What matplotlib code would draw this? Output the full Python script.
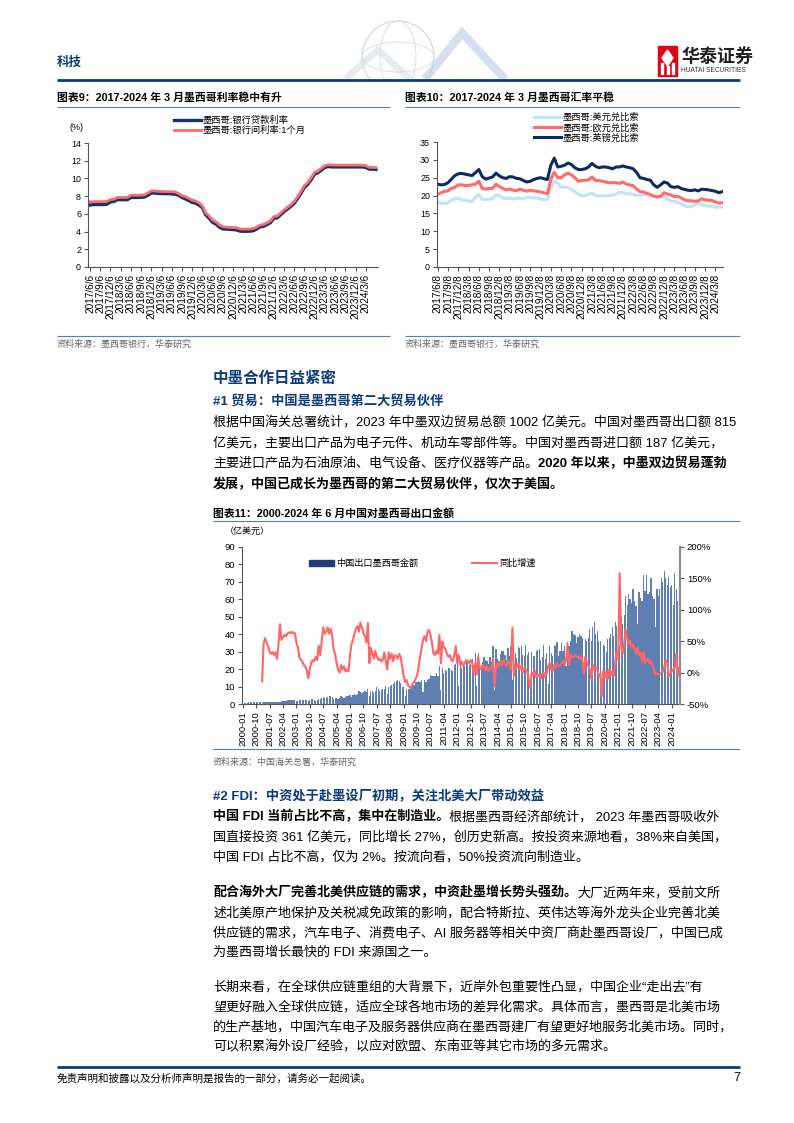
import numpy as np
import matplotlib
matplotlib.use('Agg')
import matplotlib.pyplot as plt
from matplotlib.patches import Rectangle, Circle, Ellipse, Polygon, Patch

plt.rcParams['font.family'] = ['Liberation Sans', 'Noto Sans CJK SC']
plt.rcParams['axes.unicode_minus'] = False

# ---------------- data ----------------
# chart 9: monthly, 2017-06 .. 2024-06 (%)
rate_loan = [7.0, 7.05, 7.05, 7.05, 7.05, 7.1, 7.35,
             7.4, 7.6, 7.6, 7.6, 7.6, 7.85, 7.85, 7.85, 7.87, 7.9, 8.1, 8.35,
             8.35, 8.3, 8.3, 8.28, 8.28, 8.26, 8.22, 8.1, 7.85, 7.7, 7.5, 7.3,
             7.2, 7.0, 6.7, 5.9, 5.5, 5.05, 4.85, 4.5, 4.3, 4.28, 4.25, 4.22,
             4.2, 4.05, 4.03, 4.03, 4.05, 4.1, 4.3, 4.55, 4.6, 4.8, 5.0, 5.5,
             5.55, 5.9, 6.25, 6.55, 6.85, 7.2, 7.75, 8.35, 9.0, 9.35, 9.9, 10.5,
             10.65, 10.95, 11.25, 11.35, 11.3, 11.3, 11.3, 11.3, 11.3, 11.3, 11.3, 11.3,
             11.3, 11.3, 11.25, 11.05, 11.05, 11.02]
rate_interbank = [7.35, 7.37, 7.38, 7.38, 7.38, 7.4, 7.62,
                  7.65, 7.85, 7.85, 7.85, 7.86, 8.1, 8.11, 8.1, 8.12, 8.15, 8.35, 8.6,
                  8.59, 8.55, 8.52, 8.51, 8.51, 8.5, 8.47, 8.3, 8.05, 7.95, 7.75, 7.55,
                  7.45, 7.25, 6.9, 6.1, 5.75, 5.3, 5.1, 4.75, 4.55, 4.5, 4.47, 4.45,
                  4.45, 4.3, 4.28, 4.28, 4.29, 4.35, 4.52, 4.75, 4.8, 5.0, 5.2, 5.7,
                  5.75, 6.1, 6.45, 6.75, 7.05, 7.4, 7.95, 8.55, 9.2, 9.55, 10.1, 10.7,
                  10.85, 11.15, 11.45, 11.55, 11.52, 11.5, 11.5, 11.5, 11.5, 11.5, 11.5, 11.5,
                  11.5, 11.5, 11.45, 11.25, 11.25, 11.22]
ticks9 = ['2017/6/6', '2017/9/6', '2017/12/6', '2018/3/6', '2018/6/6', '2018/9/6',
          '2018/12/6', '2019/3/6', '2019/6/6', '2019/9/6', '2019/12/6', '2020/3/6',
          '2020/6/6', '2020/9/6', '2020/12/6', '2021/3/6', '2021/6/6', '2021/9/6',
          '2021/12/6', '2022/3/6', '2022/6/6', '2022/9/6', '2022/12/6', '2023/3/6',
          '2023/6/6', '2023/9/6', '2023/12/6', '2024/3/6']

# chart 10: monthly, 2017-06 .. 2024-05
fx_usd = [18.2, 17.8, 17.8, 17.9, 18.8, 19.0, 19.2,
          18.8, 18.6, 18.5, 18.3, 19.5, 20.3, 18.9, 18.9, 19.0, 19.2, 20.2, 20.0,
          19.3, 19.2, 19.3, 19.0, 19.2, 19.3, 19.0, 19.6, 19.5, 19.3, 19.4, 19.0,
          18.8, 18.9, 22.0, 24.2, 23.5, 22.3, 22.4, 22.2, 21.7, 21.2, 20.4, 19.9,
          20.0, 20.4, 20.7, 20.0, 19.9, 20.0, 19.9, 20.0, 20.1, 20.4, 21.0, 20.8,
          20.5, 20.5, 20.3, 20.1, 20.2, 20.1, 20.4, 20.1, 20.0, 20.0, 19.5, 19.5,
          19.0, 18.5, 18.4, 18.1, 17.7, 17.2, 16.8, 17.0, 17.4, 18.0, 17.4, 17.2,
          17.1, 17.1, 16.7, 16.8, 16.7]
fx_eur = [20.3, 20.8, 21.2, 21.3, 22.0, 22.3, 23.0,
          23.0, 22.8, 22.8, 23.0, 23.2, 24.0, 22.0, 21.8, 22.0, 22.0, 23.2, 22.5,
          22.0, 21.6, 21.8, 21.5, 21.4, 21.8, 21.5, 21.2, 21.5, 21.3, 21.2, 21.0,
          20.8, 20.5, 24.5, 26.5, 25.0, 25.0, 25.8, 26.3, 25.8, 25.0, 24.0, 24.2,
          24.3, 24.4, 25.2, 24.2, 24.2, 24.0, 23.8, 23.6, 23.6, 23.6, 23.4, 23.8,
          23.2, 23.0, 22.8, 21.8, 21.1, 21.0, 20.6, 20.3, 19.8, 19.6, 19.8, 20.8,
          20.4, 20.2, 19.7, 19.8, 19.3, 18.8, 18.6, 18.5, 18.4, 18.5, 19.1, 18.8,
          18.7, 18.6, 18.2, 17.9, 18.0]
fx_gbp = [23.2, 23.0, 23.1, 23.6, 24.6, 25.6, 26.1,
          26.2, 26.0, 25.8, 25.6, 26.4, 27.3, 25.3, 24.6, 24.9, 25.2, 26.3, 25.5,
          25.0, 24.8, 25.3, 25.2, 24.8, 24.7, 24.2, 23.8, 24.0, 24.5, 24.8, 25.0,
          24.7, 24.5, 28.5, 30.5, 28.0, 28.2, 28.5, 29.1, 28.7, 27.8, 27.3, 27.3,
          27.5, 28.0, 29.0, 28.2, 27.8, 28.0, 28.0, 27.8, 27.5, 28.0, 28.0, 28.3,
          28.0, 27.8, 27.5, 26.5, 25.0, 24.8, 24.5, 24.3, 23.0, 22.3, 23.0, 23.8,
          23.5, 22.5, 22.3, 22.5, 22.0, 21.7, 21.5, 21.4, 21.6, 21.3, 21.8, 21.7,
          21.6, 21.4, 21.2, 20.8, 21.1]
ticks10 = ['2017/6/8', '2017/9/8', '2017/12/8', '2018/3/8', '2018/6/8', '2018/9/8',
           '2018/12/8', '2019/3/8', '2019/6/8', '2019/9/8', '2019/12/8', '2020/3/8',
           '2020/6/8', '2020/9/8', '2020/12/8', '2021/3/8', '2021/6/8', '2021/9/8',
           '2021/12/8', '2022/3/8', '2022/6/8', '2022/9/8', '2022/12/8', '2023/3/8',
           '2023/6/8', '2023/9/8', '2023/12/8', '2024/3/8']

# chart 11: monthly exports 2000-01 .. 2024-06 (亿美元)
export_amt = [
    0.7, 0.6, 0.8, 0.8, 0.9, 0.9, 1.0, 1.0, 1.0, 1.0, 1.0, 1.0,
    1.0, 0.6, 1.1, 1.2, 1.2, 1.2, 1.3, 1.3, 1.3, 1.3, 1.4, 1.3,
    1.4, 1.1, 1.7, 1.8, 1.9, 1.9, 2.1, 2.2, 2.1, 2.2, 2.3, 2.1,
    2.0, 1.5, 2.1, 2.2, 2.3, 2.2, 2.4, 2.3, 2.0, 2.3, 2.7, 2.6,
    2.4, 1.9, 2.5, 3.1, 2.9, 3.3, 4.1, 3.7, 3.3, 4.0, 4.4, 4.4,
    3.8, 2.6, 3.3, 3.6, 3.1, 3.3, 4.6, 3.9, 3.6, 4.1, 4.6, 4.5,
    4.9, 3.8, 5.0, 5.8, 5.3, 5.7, 7.6, 7.0, 6.2, 6.6, 7.3, 6.7,
    8.8, 4.4, 7.0, 7.5, 6.5, 7.7, 9.5, 8.4, 7.6, 7.8, 8.8, 8.8,
    10.5, 5.5, 10.0, 10.5, 11.0, 11.5, 12.5, 13.0, 13.8, 13.2, 12.0, 10.0,
    10.0, 4.7, 8.8, 8.4, 8.5, 8.6, 10.3, 11.0, 12.4, 12.5, 13.0, 12.5,
    13.8, 7.1, 13.9, 12.6, 14.0, 14.4, 16.5, 16.3, 16.1, 16.0, 17.6, 16.3,
    22.0, 8.2, 20.7, 17.6, 19.3, 18.7, 20.6, 20.9, 19.3, 18.9, 22.5, 23.1,
    25.3, 10.5, 23.2, 20.8, 21.2, 21.5, 24.7, 24.6, 22.2, 22.7, 25.9, 22.2,
    29.1, 10.2, 29.0, 22.5, 22.3, 24.1, 27.2, 25.3, 24.4, 23.2, 27.2, 24.0,
    33.5, 8.0, 31.3, 25.9, 24.5, 28.4, 30.5, 30.4, 28.1, 25.5, 32.1, 27.6,
    33.0, 13.8, 29.7, 29.0, 26.5, 32.7, 32.0, 33.4, 28.1, 27.5, 33.7, 28.2,
    29.7, 10.4, 29.7, 27.6, 27.3, 30.1, 31.0, 31.8, 25.3, 27.0, 33.7, 25.9,
    29.1, 11.4, 33.2, 29.0, 27.8, 33.7, 33.5, 35.6, 27.8, 30.2, 35.0, 30.6,
    33.0, 22.0, 35.5, 33.0, 36.0, 42.0, 40.0, 39.5, 35.0, 38.5, 40.0, 39.0,
    38.0, 21.0, 37.0, 36.0, 38.0, 43.0, 36.0, 44.0, 47.0, 40.0, 42.0, 36.0,
    36.0, 13.0, 34.0, 33.0, 30.0, 37.0, 38.0, 40.0, 44.0, 39.0, 47.0, 45.0,
    43.0, 33.0, 50.0, 46.0, 51.0, 62.0, 57.0, 63.0, 60.0, 58.0, 66.0, 59.0,
    56.0, 46.0, 64.0, 61.0, 59.0, 74.0, 65.0, 74.0, 63.0, 64.0, 72.0, 62.0,
    60.0, 44.0, 66.0, 62.0, 66.0, 72.0, 70.0, 76.0, 72.0, 68.0, 73.0, 67.0,
    68.0, 57.0, 75.0, 66.0, 59.0, 75.0]
# YoY growth (%), 2001-02 .. 2024-06
export_yoy = [
    -14, 45, 55, 48, 42, 33, 30, 33, 28, 32, 22,
    45, 77, 52, 56, 60, 58, 62, 64, 63, 65, 62, 63,
    48, 40, 25, 20, 18, 12, 10, 3, -9, 5, 16, 20,
    18, 25, 20, 43, 28, 50, 72, 62, 65, 72, 62, 70,
    60, 37, 30, 15, 5, 0, 12, 5, 10, 2, 5, 2,
    29, 45, 52, 62, 70, 74, 65, 80, 72, 62, 58, 48,
    79, 15, 40, 30, 22, 35, 25, 20, 22, 18, 20, 32,
    18, 5, 32, 22, 30, 18, 28, 26, 22, 30, 25, 10,
    -5, -15, -12, -20, -23, -25, -18, -15, -10, -5, 8, 25,
    38, 52, 58, 50, 65, 68, 60, 48, 30, 28, 35, 30,
    60, 15, 49, 40, 38, 30, 25, 28, 20, 18, 28, 42,
    15, 28, 12, 18, 10, 15, 20, 18, 15, 20, 15, -4,
    15, -3, 25, 8, 5, 12, 10, 3, 10, 2, 5, 8,
    22, -22, 8, 15, 10, 18, 12, 20, 15, 10, 18, 15,
    5, 72, -5, 12, 8, 15, 5, 10, 0, 8, 5, 2,
    -10, -25, 0, -5, 3, -8, -3, -5, -10, -2, 0, -8,
    -2, 10, 15, 5, 2, 12, 8, 15, 10, 12, 15, 18,
    12, 20, 45, 12, 28, 25, 25, 28, 25, 26, 22, 25,
    20, -2, 25, 15, 10, 5, -10, 12, 5, 8, 5, -5,
    -2, -38, 2, -8, 2, -10, 5, -5, 2, -5, 15, 33,
    20, 158, 41, 30, 45, 69, 55, 45, 50, 40, 45, 38,
    30, 40, 28, 32, 18, 33, 15, 20, 22, 15, 18, 12,
    5, -3, -2, -2, -3, 0, 1, 10, 20, 15, -6, -2,
    2, 5, 8, 30, -5, 8]
yoy_start = 13  # first yoy point is 2001-02
ticks11 = ['2000-01', '2000-10', '2001-07', '2002-04', '2003-01', '2003-10', '2004-07',
           '2005-04', '2006-01', '2006-10', '2007-07', '2008-04', '2009-01', '2009-10',
           '2010-07', '2011-04', '2012-01', '2012-10', '2013-07', '2014-04', '2015-01',
           '2015-10', '2016-07', '2017-04', '2018-01', '2018-10', '2019-07', '2020-04',
           '2021-01', '2021-10', '2022-07', '2023-04', '2024-01']

# ---------------- page ----------------
W, H = 794, 1123
NAVY = '#0B3A7E'
LINE = '#5B7DB5'

fig = plt.figure(figsize=(W / 100, H / 100), dpi=100)
renderer = fig.canvas.get_renderer()

page = fig.add_axes([0, 0, 1, 1])
page.set_xlim(0, W)
page.set_ylim(H, 0)
page.axis('off')


def box(x0, y0, x1, y1):
    return [x0 / W, 1 - y1 / H, (x1 - x0) / W, (y1 - y0) / H]


def hline(x0, x1, y, color=LINE, lw=0.8):
    page.plot([x0, x1], [y, y], color=color, lw=lw, solid_capstyle='butt')


def put_line(y, segs, x=213, size=9.4):
    for s, bold in segs:
        t = page.text(x, y, s, fontsize=size, fontweight='bold' if bold else 'normal',
                      ha='left', va='center', color='black')
        x += t.get_window_extent(renderer).width


# header decoration (globe + chevrons)
page.add_patch(Circle((398, 57), 36, fill=False, ec='#D5DBE4', lw=1.0))
page.add_patch(Ellipse((398, 57), 36, 72, fill=False, ec='#DDE2EA', lw=0.8))
page.add_patch(Ellipse((398, 57), 72, 30, fill=False, ec='#DDE2EA', lw=0.8))
page.add_patch(Polygon([(425, 79), (462, 33), (505, 79)], closed=False, fill=False,
                       ec='#B9CBE3', lw=6, alpha=0.6))
page.add_patch(Polygon([(345, 79), (378, 50), (410, 79)], closed=False, fill=False,
                       ec='#D6DEEA', lw=5, alpha=0.6))
page.add_patch(Rectangle((300, 79), 240, 30, color='white', zorder=2))

page.text(57, 63, '科技', fontsize=9, fontweight='bold', color=NAVY, va='center')
page.add_patch(Rectangle((658, 46), 19, 30, color='#E60012'))
page.add_patch(Polygon([(667.5, 50), (673, 58), (667.5, 66), (662, 58)], color='white'))
page.add_patch(Rectangle((661, 63), 2, 11, color='white'))
page.add_patch(Rectangle((666.5, 66), 2, 8, color='white'))
page.add_patch(Rectangle((672, 63), 2, 11, color='white'))
page.text(681, 57, '华泰证券', fontsize=13, fontweight='bold', color='#222222', va='center')
page.text(681, 71, 'HUATAI SECURITIES', fontsize=4.8, color='#333333', va='center')
hline(57, 740, 79.5, color='#0B3A7E', lw=2)

# chart titles / rules / sources
page.text(57, 98, '图表9：2017-2024 年 3 月墨西哥利率稳中有升', fontsize=7.8,
          fontweight='bold', va='center')
page.text(405, 98, '图表10：2017-2024 年 3 月墨西哥汇率平稳', fontsize=7.8,
          fontweight='bold', va='center')
hline(57, 390, 107)
hline(405, 740, 107)
hline(57, 390, 336)
hline(405, 740, 336)
page.text(57, 344, '资料来源：墨西哥银行，华泰研究', fontsize=6.5, color='#666666', va='center')
page.text(405, 344, '资料来源：墨西哥银行，华泰研究', fontsize=6.5, color='#666666', va='center')
page.text(77, 127, '(%)', fontsize=6.5, ha='center', va='center')


def style_axes(ax, xsize=7.2, ysize=6.4):
    for s in ['top', 'right']:
        ax.spines[s].set_visible(False)
    for s in ['left', 'bottom']:
        ax.spines[s].set_color('#555555')
        ax.spines[s].set_linewidth(0.8)
    ax.tick_params(direction='out', length=3, width=0.8, color='#555555', pad=2)
    ax.tick_params(axis='x', labelsize=xsize)
    ax.tick_params(axis='y', labelsize=ysize)
    ax.patch.set_visible(False)


# chart 9
ax9 = fig.add_axes(box(88, 143, 378, 267))
x9 = np.arange(len(rate_loan))
ax9.plot(x9, rate_loan, color='#12336B', lw=2.4, label='墨西哥:银行贷款利率')
ax9.plot(x9, rate_interbank, color='#FF6B6B', lw=2.0, label='墨西哥:银行间利率:1个月')
ax9.set_xlim(-0.6, 84.6)
ax9.set_ylim(0, 14)
ax9.set_yticks(range(0, 15, 2))
ax9.set_xticks(range(0, 3 * len(ticks9), 3))
ax9.set_xticklabels(ticks9, rotation=90)
style_axes(ax9)
ax9.legend(loc='upper left', bbox_to_anchor=(174 / W, 1 - 116 / H), bbox_transform=fig.transFigure,
           frameon=False, fontsize=6.7, handlelength=2.9, handletextpad=0.2,
           labelspacing=0.1, borderpad=0, borderaxespad=0)

# chart 10
ax10 = fig.add_axes(box(437, 142, 723, 267))
x10 = np.arange(len(fx_usd))
ax10.plot(x10, fx_usd, color='#BFE4F6', lw=2.2, label='墨西哥:美元兑比索')
ax10.plot(x10, fx_eur, color='#FF6B6B', lw=2.2, label='墨西哥:欧元兑比索')
ax10.plot(x10, fx_gbp, color='#0E2A5E', lw=2.2, label='墨西哥:英镑兑比索')
ax10.set_xlim(-0.2, 83.2)
ax10.set_ylim(0, 35)
ax10.set_yticks(range(0, 36, 5))
ax10.set_xticks(range(0, 3 * len(ticks10), 3))
ax10.set_xticklabels(ticks10, rotation=90)
style_axes(ax10)
ax10.legend(loc='upper left', bbox_to_anchor=(534 / W, 1 - 113 / H), bbox_transform=fig.transFigure,
            frameon=False, fontsize=6.7, handlelength=2.9, handletextpad=0.2,
            labelspacing=0.1, borderpad=0, borderaxespad=0)

# section text
page.text(213, 379, '中墨合作日益紧密', fontsize=11.2, fontweight='bold', color=NAVY, va='center')
page.text(213, 401, '#1 贸易：中国是墨西哥第二大贸易伙伴', fontsize=9.5, fontweight='bold',
          color=NAVY, va='center')
put_line(422, [('根据中国海关总署统计，2023 年中墨双边贸易总额 1002 亿美元。中国对墨西哥出口额 815', False)])
put_line(443, [('亿美元，主要出口产品为电子元件、机动车零部件等。中国对墨西哥进口额 187 亿美元，', False)])
put_line(464, [('主要进口产品为石油原油、电气设备、医疗仪器等产品。', False),
               ('2020 年以来，中墨双边贸易蓬勃', True)])
put_line(485, [('发展，中国已成长为墨西哥的第二大贸易伙伴，仅次于美国。', True)])

# chart 11
page.text(213, 513, '图表11：2000-2024 年 6 月中国对墨西哥出口金额', fontsize=7.8,
          fontweight='bold', va='center')
hline(213, 740, 521)
hline(213, 740, 749)
page.text(213, 762, '资料来源：中国海关总署，华泰研究', fontsize=6.5, color='#666666', va='center')
page.text(247, 531, '（亿美元）', fontsize=6.5, ha='center', va='center')

ax11 = fig.add_axes(box(242, 547, 680, 704))
x11 = np.arange(len(export_amt))
ax11.bar(x11, export_amt, width=0.8, color='#5F7FB2')
ax11.set_xlim(-0.5, len(export_amt) - 0.5)
ax11.set_ylim(0, 90)
ax11.set_yticks(range(0, 91, 10))
ax11.set_xticks(range(0, 9 * len(ticks11), 9))
ax11.set_xticklabels(ticks11, rotation=90)
style_axes(ax11, xsize=6.8, ysize=6.8)

ax11r = ax11.twinx()
x_yoy = np.arange(yoy_start, yoy_start + len(export_yoy))
yoy_line, = ax11r.plot(x_yoy, export_yoy, color='#FF6666', lw=1.5)
ax11r.set_ylim(-50, 200)
ax11r.set_yticks(range(-50, 201, 50))
ax11r.set_yticklabels([f'{v}%' for v in range(-50, 201, 50)])
for s in ['top', 'left', 'bottom']:
    ax11r.spines[s].set_visible(False)
ax11r.spines['right'].set_color('#8C8C8C')
ax11r.spines['right'].set_linewidth(1.6)
ax11r.tick_params(direction='out', length=3, width=0.8, color='#555555', labelsize=6.8, pad=2)

bar_key = Patch(color='#1F3E77')
ax11r.legend([bar_key, yoy_line], ['中国出口墨西哥金额', '同比增速'], loc='upper left',
             bbox_to_anchor=(309 / W, 1 - 559 / H), bbox_transform=fig.transFigure,
             ncol=2, frameon=False, fontsize=6.6, handlelength=2.7, handleheight=0.6,
             handletextpad=0.3, columnspacing=5.8, borderpad=0, borderaxespad=0)

# FDI section
page.text(213, 797, '#2 FDI：中资处于赴墨设厂初期，关注北美大厂带动效益', fontsize=9.5,
          fontweight='bold', color=NAVY, va='center')
put_line(817, [('中国 FDI 当前占比不高，集中在制造业。', True),
               ('根据墨西哥经济部统计， 2023 年墨西哥吸收外', False)])
put_line(837, [('国直接投资 361 亿美元，同比增长 27%，创历史新高。按投资来源地看，38%来自美国，', False)])
put_line(857, [('中国 FDI 占比不高，仅为 2%。按流向看，50%投资流向制造业。', False)])

put_line(893, [('配合海外大厂完善北美供应链的需求，中资赴墨增长势头强劲。', True),
               ('大厂近两年来，受前文所', False)])
put_line(913, [('述北美原产地保护及关税减免政策的影响，配合特斯拉、英伟达等海外龙头企业完善北美', False)])
put_line(933, [('供应链的需求，汽车电子、消费电子、AI 服务器等相关中资厂商赴墨西哥设厂，中国已成', False)])
put_line(953, [('为墨西哥增长最快的 FDI 来源国之一。', False)])

put_line(987, [('长期来看，在全球供应链重组的大背景下，近岸外包重要性凸显，中国企业“走出去”有', False)])
put_line(1007, [('望更好融入全球供应链，适应全球各地市场的差异化需求。具体而言，墨西哥是北美市场', False)])
put_line(1027, [('的生产基地，中国汽车电子及服务器供应商在墨西哥建厂有望更好地服务北美市场。同时，', False)])
put_line(1046, [('可以积累海外设厂经验，以应对欧盟、东南亚等其它市场的多元需求。', False)])

# footer
hline(57, 740, 1067, color='#0B3A7E', lw=2)
page.text(57, 1078, '免责声明和披露以及分析师声明是报告的一部分，请务必一起阅读。', fontsize=7.6,
          style='italic', va='center')
page.text(740, 1078, '7', fontsize=9, ha='right', va='center')

fig.savefig('out.png', dpi=100)
